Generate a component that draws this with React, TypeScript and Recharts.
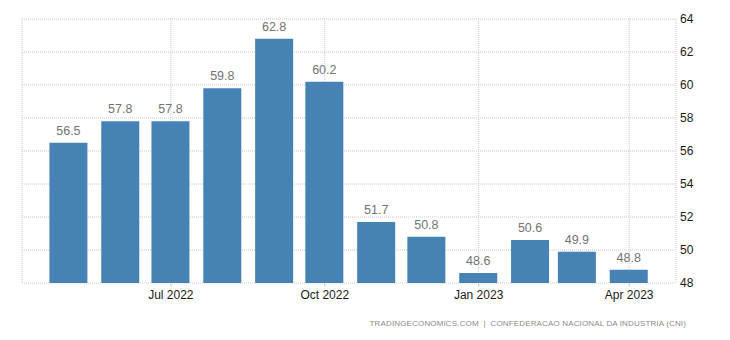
import React from 'react';
import {
  ComposedChart,
  Bar,
  XAxis,
  YAxis,
  CartesianGrid,
  LabelList,
} from 'recharts';

const months = [
  '2022-05', '2022-06', '2022-07', '2022-08', '2022-09', '2022-10',
  '2022-11', '2022-12', '2023-01', '2023-02', '2023-03', '2023-04',
];
const values = [56.5, 57.8, 57.8, 59.8, 62.8, 60.2, 51.7, 50.8, 48.6, 50.6, 49.9, 48.8];
const xTickMonths = ['2022-07', '2022-10', '2023-01', '2023-04'];
const yTicks = [48, 50, 52, 54, 56, 58, 60, 62, 64];

const MONTH_NAMES = ['Jan', 'Feb', 'Mar', 'Apr', 'May', 'Jun', 'Jul', 'Aug', 'Sep', 'Oct', 'Nov', 'Dec'];
const DAY = 24 * 3600 * 1000;

const toTime = (m: string) => {
  const [y, mo] = m.split('-').map(Number);
  return Date.UTC(y, mo - 1, 1);
};

const formatMonth = (t: number) => {
  const d = new Date(t);
  return `${MONTH_NAMES[d.getUTCMonth()]} ${d.getUTCFullYear()}`;
};

const chartData = months.map((m, i) => ({ t: toTime(m), value: values[i] }));
const xTicks = xTickMonths.map(toTime);
const xDomain = [chartData[0].t - 28 * DAY, chartData[chartData.length - 1].t + 28 * DAY];

const FONT = '"Liberation Sans", Arial, sans-serif';

export default function App() {
  return (
    <div style={{ position: 'relative', width: 730, height: 340, fontFamily: FONT }}>
      <style>{'body{margin:0}'}</style>
      <ComposedChart
        width={730}
        height={340}
        data={chartData}
        margin={{ top: 19, right: 0, left: 22, bottom: 27 }}
      >
        <CartesianGrid stroke="#c8c8c8" strokeDasharray="1 1" />
        <XAxis
          dataKey="t"
          type="number"
          scale="time"
          domain={xDomain}
          ticks={xTicks}
          tickFormatter={formatMonth}
          axisLine={false}
          tickLine={{ stroke: '#c8c8c8' }}
          tickSize={4}
          tickMargin={3}
          height={30}
          tick={{ fontSize: 12, fill: '#1a1a1a', fontFamily: FONT }}
        />
        <YAxis
          orientation="right"
          domain={[48, 64]}
          ticks={yTicks}
          axisLine={false}
          tickLine={false}
          tickSize={2}
          tickMargin={2}
          width={54}
          tick={{ fontSize: 12, fill: '#1a1a1a', fontFamily: FONT, textAnchor: 'start' }}
        />
        <Bar dataKey="value" fill="#4682B4" barSize={38} isAnimationActive={false}>
          <LabelList
            dataKey="value"
            position="top"
            offset={8}
            style={{ fontSize: 12.5, fill: '#737373', fontFamily: FONT }}
          />
        </Bar>
      </ComposedChart>
      <div
        style={{
          position: 'absolute',
          top: 319,
          right: 44,
          fontSize: 8,
          letterSpacing: 0.15,
          color: '#8a8a8a',
          whiteSpace: 'pre',
        }}
      >
        {'TRADINGECONOMICS.COM  |  CONFEDERACAO NACIONAL DA INDUSTRIA (CNI)'}
      </div>
    </div>
  );
}
